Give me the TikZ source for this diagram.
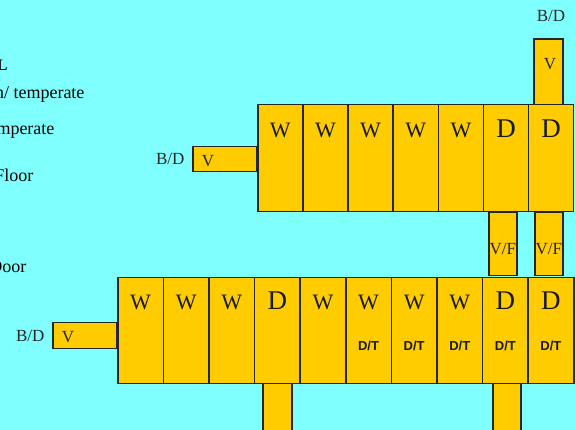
\documentclass[tikz,border=0pt]{standalone}
\usepackage{fontspec}
\setmainfont{Liberation Serif}
\newfontfamily\tagfont{Liberation Sans}
\usetikzlibrary{positioning}
\definecolor{skybg}{RGB}{128,255,255}
\definecolor{gold}{RGB}{255,204,0}

\begin{document}
\begin{tikzpicture}[x=1pt, y=-1pt,
        cell/.style={draw=black!85, line width=1.5pt, fill=gold, anchor=north west, inner sep=0pt},
        wtxt/.style={font=\fontsize{22}{22}\selectfont, anchor=base, text=black!90},
        dtxt/.style={font=\fontsize{27}{27}\selectfont, anchor=base, text=black!90},
        tag/.style={font=\tagfont\bfseries\fontsize{13}{13}\selectfont, text=black!90},
        small/.style={font=\fontsize{17}{17}\selectfont, text=black!85},
        key/.style={font=\fontsize{18}{18}\selectfont, anchor=east}]
        \useasboundingbox (0, 0) rectangle (576, 430);
        \fill[skybg] (0, 0) rectangle (576, 430);
        % legend, cut at the left edge
        \node[key, font=\bfseries\fontsize{16}{16}\selectfont] (k1) at (11, 65) {IL};
        \node[key] (k2) at (88, 94) {n/ temperate};
        \node[key] (k3) at (58, 131) {mperate};
        \node[key] (k4) at (37, 175) {Floor};
        \node[key] (k5) at (30, 267) {Door};
        % upper block
        \node[cell, minimum width=64pt, minimum height=25pt] (vt) at (192, 146) {};
        \node[cell, minimum width=29pt, minimum height=66pt] (vb) at (533, 39) {};
        \draw[line width=2.5pt, black!85] (vb.north west) -- (vb.north east);
        \foreach \lab/\sty [count=\i] in {W/wtxt, W/wtxt, W/wtxt, W/wtxt, W/wtxt, D/dtxt, D/dtxt} {
            \node[cell, minimum width=45.14pt, minimum height=107pt] (t\i) at (257+45.14*\i-45.14, 104) {};
            \node[\sty] (tl\i) at ([yshift=-34pt]t\i.north) {\lab};
        }
        \node[small, anchor=base] (vtl) at (208, 167) {V};
        \node[small, left=4pt of vt] (bdt) {B/D};
        \node[small, anchor=base] (vbl) at (550, 70) {V};
        \node[small] (bdb) at (551, 16) {B/D};
        % links between the blocks
        \node[cell, minimum width=28pt, minimum height=63pt] (vf1) at (488, 212) {};
        \node[cell, minimum width=28pt, minimum height=63pt] (vf2) at (534, 212) {};
        \node[small, inner sep=0pt] (vfl1) at (vf1.center) [yshift=-5pt] {V/F};
        \node[small, inner sep=0pt] (vfl2) at (vf2.center) [yshift=-5pt] {V/F};
        % lower block
        \node[cell, minimum width=29pt, minimum height=60pt] (s1) at (262, 380) {};
        \node[cell, minimum width=28pt, minimum height=60pt] (s2) at (492, 380) {};
        \node[cell, minimum width=64pt, minimum height=26pt] (vl) at (52, 322) {};
        \foreach \lab/\sty [count=\i] in {W/wtxt, W/wtxt, W/wtxt, D/dtxt, W/wtxt, W/wtxt, W/wtxt, W/wtxt, D/dtxt, D/dtxt} {
            \node[cell, minimum width=45.6pt, minimum height=106pt] (b\i) at (117+45.6*\i-45.6, 277) {};
            \node[\sty] (bl\i) at ([yshift=-33pt]b\i.north) {\lab};
        }
        \foreach \i in {6,...,10}
            \node[tag] (dt\i) at ([yshift=-69pt]b\i.north) {D/T};
        \node[small, anchor=base] (vll) at (68, 343) {V};
        \node[small, left=4pt of vl] (bdl) {B/D};
\end{tikzpicture}
\end{document}
